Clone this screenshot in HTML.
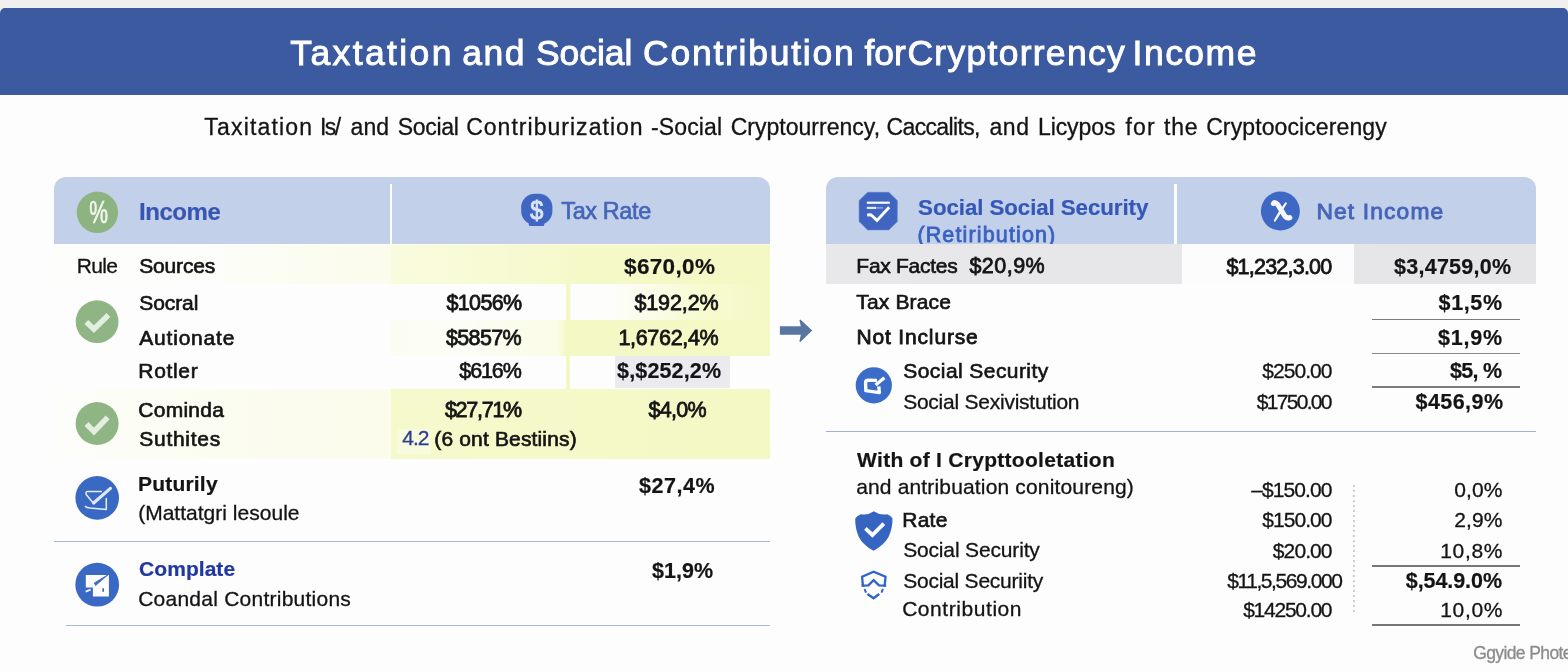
<!DOCTYPE html>
<html lang="en">
<head>
<meta charset="utf-8">
<title>Taxation and Social Contribution for Cryptocurrency Income</title>
<style>
html,body{margin:0;padding:0;}
body{width:1568px;height:672px;overflow:hidden;background:#fdfdfd;position:relative;font-family:"Liberation Sans",sans-serif;}
.a{position:absolute;}
.t{position:absolute;z-index:3;white-space:pre;line-height:30px;font-family:"Liberation Sans",sans-serif;}

.w span{position:absolute;top:0;white-space:pre;}
#icons{position:absolute;left:0;top:0;width:1568px;height:672px;}
</style>
</head>
<body>
<!-- top strip + title band -->
<div class="a" style="left:0;top:0;width:1568px;height:9px;background:#f0f0ef;"></div>
<div class="a" style="left:0;top:8px;width:1568px;height:87.3px;background:#3c5aa0;border-radius:5px 5px 0 0;"></div>

<!-- left table -->
<div class="a" style="left:54px;top:177px;width:716px;height:67px;background:#c3d0ea;border-radius:12px 12px 0 0;"></div>
<div class="a" style="left:389.5px;top:184px;width:2.5px;height:60px;background:#fbfcfe;"></div>
<!-- row backgrounds left -->
<div class="a" style="left:54px;top:244px;width:337px;height:40px;background:linear-gradient(90deg,#fdfdfc 0,#fdfdfa 45%,#fcfdf2 70%,#fbfcec 100%);"></div>
<div class="a" style="left:391px;top:244px;width:379px;height:40px;background:linear-gradient(90deg,#f9fbde 0,#f7fad2 30%,#f5f9c8 50%,#f4f8c4 100%);"></div>
<div class="a" style="left:391px;top:284px;width:379px;height:36px;background:linear-gradient(90deg,#fdfdfd 0,#fdfdfd 46.2%,#f4f8c5 46.3%,#f4f8c5 47.3%,#fdfdfd 47.4%,#fdfdfb 58%,#f7fbd0 82%,#f4f8c5 100%);"></div>
<div class="a" style="left:391px;top:319.5px;width:379px;height:36px;background:linear-gradient(90deg,#fcfdf2 0,#fcfdf4 20%,#fafce6 44%,#f4f8c5 46.2%,#f5f9c6 100%);"></div>
<div class="a" style="left:566px;top:355px;width:4px;height:34px;background:#f4f8c5;"></div>
<div class="a" style="left:614.5px;top:355.5px;width:115.5px;height:32px;background:#eaeaef;"></div>
<div class="a" style="left:54px;top:389px;width:337px;height:69.5px;background:linear-gradient(90deg,#fdfdfb 0,#fcfdf4 30%,#fbfcea 100%);"></div>
<div class="a" style="left:391px;top:389px;width:379px;height:69.5px;background:linear-gradient(90deg,#f6f9cc 0,#f4f8c4 100%);"></div>
<div class="a" style="left:397px;top:429px;width:34px;height:25px;background:#f9fbde;"></div>
<div class="a" style="left:54px;top:244px;width:716px;height:1.3px;background:rgba(255,255,255,0.55);"></div>
<!-- rules left -->
<div class="a" style="left:54px;top:540.5px;width:716px;height:1.5px;background:#a9b9dd;"></div>
<div class="a" style="left:66px;top:624.5px;width:704px;height:1.5px;background:#a9b9dd;"></div>

<!-- right table -->
<div class="a" style="left:826px;top:177px;width:710px;height:67px;background:#c3d0ea;border-radius:12px 12px 0 0;"></div>
<div class="a" style="left:1174px;top:184px;width:2.5px;height:60px;background:#fbfcfe;"></div>
<div class="a" style="left:826px;top:244px;width:710px;height:40px;background:linear-gradient(90deg,#e8e8ea,#e5e5e8);z-index:2;"></div>
<div class="a" style="left:1182px;top:244px;width:172px;height:40px;background:#fcfcfc;z-index:2;"></div>
<!-- rules right -->
<div class="a" style="left:826px;top:430.5px;width:710px;height:1.5px;background:#a6afd2;"></div>
<div class="a" style="left:1372px;top:318.5px;width:148px;height:1.5px;background:#7c7c7c;"></div>
<div class="a" style="left:1372px;top:352.5px;width:148px;height:1.5px;background:#8a8a8a;"></div>
<div class="a" style="left:1372px;top:386px;width:148px;height:1.5px;background:#7c7c7c;"></div>
<div class="a" style="left:1372px;top:565.3px;width:148px;height:1.8px;background:#777;"></div>
<div class="a" style="left:1372px;top:624.2px;width:148px;height:1.8px;background:#777;"></div>
<div class="a" style="left:1353.2px;top:485px;width:1.6px;height:128px;background:repeating-linear-gradient(180deg,#cdcdcd 0,#cdcdcd 1.6px,transparent 1.6px,transparent 5px);"></div>

<svg id="icons" width="1568" height="672" viewBox="0 0 1568 672">
<!-- percent badge -->
<circle cx="97.4" cy="212.3" r="20.7" fill="#8db380"/>
<text x="0" y="8.3" text-anchor="middle" font-family="'Liberation Sans',sans-serif" font-size="24" font-weight="400" fill="#f1f6ec" transform="translate(98.6 212.2) scale(0.88 1.32)" stroke="#f1f6ec" stroke-width="0.5">%</text>
<!-- dollar badge -->
<rect x="521.2" y="193.8" width="31.2" height="31" rx="13.5" ry="13.5" fill="#3f66c2"/>
<rect x="528.8" y="221" width="15.4" height="5" rx="1" fill="#3f66c2"/>
<text x="0" y="8.1" text-anchor="middle" font-family="'Liberation Sans',sans-serif" font-size="24" font-weight="400" fill="#dbe4f8" stroke="#dbe4f8" stroke-width="0.9" transform="translate(536.9 210.2) scale(0.98 1.1)">$</text>
<!-- check circles -->
<circle cx="97.1" cy="321.7" r="21.4" fill="#90b584"/>
<path d="M86.3 321.9 L93.9 329.2 L108.4 315" fill="none" stroke="#e3eedf" stroke-width="5.5"/>
<circle cx="97.1" cy="423.5" r="21.5" fill="#90b584"/>
<path d="M86.5 424 L94 431.6 L107.6 417.4" fill="none" stroke="#e3eedf" stroke-width="5.5"/>
<!-- blue icon A -->
<circle cx="97.2" cy="497.9" r="21.8" fill="#3a69c4"/>
<g fill="none" stroke="#e6edfb" stroke-linecap="round" stroke-linejoin="round">
<path d="M101.4 491.4 L87.2 491.4 Q85.6 491.6 86.2 494.6 L93.4 503.2" stroke-width="1.5"/>
<path d="M106.3 498.6 L106.3 509.4 L90 508 Q86.5 507.6 85.5 506.4" stroke-width="1.5"/>
<path d="M93.6 503 L110.4 488.4" stroke-width="3.2" stroke="#dfe8fa"/>
</g>
<!-- blue icon B -->
<circle cx="97.2" cy="584.7" r="21.9" fill="#3a69c4"/>
<path d="M85.8 574.9 L108.9 574.9 L108.9 596.5 L92.9 596.5 L92.9 587.6 L85.8 587.6 Z" fill="#fdfdfe"/>
<path d="M94.3 583 L108.2 574.6 L95.6 585.6 Z" fill="#3a69c4" stroke="#3a69c4" stroke-width="0.8" stroke-linejoin="round"/>
<rect x="102.4" y="588" width="1.6" height="4" rx="0.8" fill="#3a69c4"/>
<path d="M85.6 591.6 L90.6 589.6" stroke="#eef2fb" stroke-width="1.8" fill="none"/>
<!-- octagon -->
<path d="M867.6 192.3 L888.8 192.3 L897.3 200.6 L897.3 221.6 L888.8 229.9 L867.6 229.9 L859.1 221.6 L859.1 200.6 Z" fill="#3f65c0" stroke="#5f80cf" stroke-width="0.6"/>
<path d="M866.8 202.7 L889.8 202.7" stroke="#fbfcff" stroke-width="2.2" fill="none"/>
<path d="M866.8 207.9 L876 207.9" stroke="#e3eaf9" stroke-width="2.2" fill="none"/>
<path d="M876 207.9 L883 207.9" stroke="#8aa4e0" stroke-width="1.6" fill="none"/>
<path d="M867.2 215.2 Q870.5 214.2 872 215.8 L877 220.4 L889.2 207.2" stroke="#fdfdff" stroke-width="3" fill="none"/>
<!-- net income -->
<circle cx="1280.4" cy="211.1" r="19.5" fill="#3f68c4"/>
<path d="M1273.4 203.6 Q1274.6 201.2 1277.6 204.4 L1284.4 215.4 Q1286.6 218.8 1289.8 217.6" stroke="#f6f8fd" stroke-width="5" fill="none" stroke-linecap="round" stroke-linejoin="round"/>
<path d="M1285.8 203.4 L1274.8 220.6 L1280 211.6 Z" fill="#f6f8fd" stroke="#f6f8fd" stroke-width="2" stroke-linejoin="round"/>
<!-- arrow -->
<path d="M779.9 326.2 L800.8 326.2 L799.4 320.2 L800.4 319.6 L812.2 330.4 L800.4 342 L799.4 341.4 L800.8 334.8 L779.9 334.8 Z" fill="#5876a0"/>
<!-- right blue circle -->
<circle cx="873.8" cy="385.3" r="18.1" fill="#3b6cc8"/>
<path d="M877 380.4 L867.6 380.2 Q865.6 380.4 865.6 382.4 L865.8 390.6 L879.4 392.6 L878.8 386.4" stroke="#fbfcff" stroke-width="3.4" fill="none" stroke-linejoin="round"/>
<path d="M875.6 385 L884.4 377.8" stroke="#fbfcff" stroke-width="3.4" fill="none"/>
<!-- shield filled -->
<path d="M873.8 511.3 Q868 515.6 860.9 514.2 Q857 515.4 855.2 518.6 Q855 528 858.6 536.6 Q863 545.4 873.5 550.8 Q884 545.4 888.8 536.6 Q892.6 528 892.5 518.6 Q891 515.4 887.2 514.2 Q880 515.6 873.8 511.3 Z" fill="#3565c0"/>
<path d="M865.4 528.4 L872.4 535 L883.8 523.6" stroke="#fdfdff" stroke-width="3.8" fill="none"/>
<!-- shield outline -->
<g fill="none" stroke="#2f63c8" stroke-width="2.3" stroke-linejoin="miter">
<path d="M863 586.6 L862.1 576.8 L873.7 571.7 L885.5 576.8 L884.6 586.6"/>
<path d="M861.6 585.6 L868.4 585.4 L873.6 580.2 L879 585.4 L886.2 585.6"/>
<path d="M864.6 589 L866 592.6 M883 589 L881.4 592.6" stroke-width="2"/>
<path d="M867.4 594 L873.6 598.2 L879.2 594" stroke-width="2.4"/>
</g>
</svg>

<div class="t w" style="left:0;top:38px;font-size:35.5px;color:#ffffff;-webkit-text-stroke:0.9px #ffffff;"><span style="left:290.25px;letter-spacing:2.395px">Taxtation </span><span style="left:462.25px;letter-spacing:1.557px">and </span><span style="left:535.95px;letter-spacing:-0.040px">Social </span><span style="left:643.05px;letter-spacing:1.748px">Contribution </span><span style="left:864.55px;letter-spacing:-0.103px">for</span><span style="left:907.45px;letter-spacing:1.278px">Cryptorrency </span><span style="left:1132.55px;letter-spacing:1.486px">Income</span></div>
<div class="t w" style="left:0;top:112px;font-size:23px;color:#141414;-webkit-text-stroke:0.3px #141414;"><span style="left:204.35px;letter-spacing:1.169px">Taxitation </span><span style="left:319.95px;letter-spacing:-1.495px">Is/ </span><span style="left:350.55px;letter-spacing:0.108px">and </span><span style="left:397.85px;letter-spacing:-0.327px">Social </span><span style="left:466.15px;letter-spacing:1.028px">Contriburization </span><span style="left:650.95px;letter-spacing:0.135px">-Social </span><span style="left:730.75px;letter-spacing:0.013px">Cryptourrency, </span><span style="left:886.55px;letter-spacing:-0.645px">Caccalits, </span><span style="left:989.45px;letter-spacing:0.608px">and </span><span style="left:1037.95px;letter-spacing:-0.081px">Licypos </span><span style="left:1125.45px;letter-spacing:1.209px">for </span><span style="left:1164.05px;letter-spacing:0.809px">the </span><span style="left:1206.15px;letter-spacing:0.109px">Cryptoocicerengy</span></div>
<div class="t" style="left:139.10px;top:197px;font-size:24px;letter-spacing:-0.475px;color:#3656b2;font-weight:700;-webkit-text-stroke:0.2px #3656b2;">Income</div>
<div class="t" style="left:561.33px;top:196px;font-size:23.4px;letter-spacing:-0.349px;color:#4565b8;-webkit-text-stroke:0.65px #4565b8;">Tax Rate</div>
<div class="t" style="left:76.65px;top:251px;font-size:21px;letter-spacing:-0.603px;color:#141414;-webkit-text-stroke:0.3px #141414;">Rule</div>
<div class="t" style="left:139.32px;top:251px;font-size:21px;letter-spacing:-0.198px;color:#141414;-webkit-text-stroke:0.65px #141414;">Sources</div>
<div class="t" style="left:624.10px;top:252px;font-size:22.5px;letter-spacing:0.330px;color:#141414;font-weight:700;-webkit-text-stroke:0.2px #141414;">$670,0%</div>
<div class="t" style="left:139.32px;top:288px;font-size:21px;letter-spacing:-0.102px;color:#141414;-webkit-text-stroke:0.65px #141414;">Socral</div>
<div class="t" style="left:446.40px;top:288px;font-size:21.5px;letter-spacing:-0.617px;color:#141414;-webkit-text-stroke:0.8px #141414;">$1056%</div>
<div class="t" style="left:634.40px;top:288px;font-size:21.5px;letter-spacing:-0.093px;color:#141414;-webkit-text-stroke:0.8px #141414;">$192,2%</div>
<div class="t" style="left:139.32px;top:323px;font-size:21px;letter-spacing:0.786px;color:#141414;-webkit-text-stroke:0.65px #141414;">Autionate</div>
<div class="t" style="left:445.90px;top:323px;font-size:21.5px;letter-spacing:-0.617px;color:#141414;-webkit-text-stroke:0.8px #141414;">$5857%</div>
<div class="t" style="left:618.40px;top:323px;font-size:21.5px;letter-spacing:-0.311px;color:#141414;-webkit-text-stroke:0.8px #141414;">1,6762,4%</div>
<div class="t" style="left:138.32px;top:356px;font-size:21px;letter-spacing:0.665px;color:#141414;-webkit-text-stroke:0.65px #141414;">Rotler</div>
<div class="t" style="left:459.32px;top:356px;font-size:21.5px;letter-spacing:-1.120px;color:#141414;-webkit-text-stroke:0.65px #141414;">$616%</div>
<div class="t" style="left:617.10px;top:356px;font-size:21.5px;letter-spacing:0.139px;color:#141414;font-weight:700;-webkit-text-stroke:0.2px #141414;">$,$252,2%</div>
<div class="t" style="left:138.32px;top:395px;font-size:21px;letter-spacing:0.248px;color:#141414;-webkit-text-stroke:0.65px #141414;">Cominda</div>
<div class="t" style="left:444.90px;top:395px;font-size:21.5px;letter-spacing:-1.260px;color:#141414;-webkit-text-stroke:0.8px #141414;">$27,71%</div>
<div class="t" style="left:648.40px;top:395px;font-size:21.5px;letter-spacing:-0.661px;color:#141414;-webkit-text-stroke:0.8px #141414;">$4,0%</div>
<div class="t" style="left:139.32px;top:424px;font-size:21px;letter-spacing:0.710px;color:#141414;-webkit-text-stroke:0.65px #141414;">Suthites</div>
<div class="t" style="left:402.15px;top:423px;font-size:21px;letter-spacing:-0.907px;color:#2c3e90;-webkit-text-stroke:0.3px #2c3e90;">4.2</div>
<div class="t" style="left:434.32px;top:424px;font-size:21px;letter-spacing:0.152px;color:#141414;-webkit-text-stroke:0.65px #141414;">(6 ont Bestiins)</div>
<div class="t" style="left:138.10px;top:469px;font-size:21px;letter-spacing:0.186px;color:#141414;font-weight:700;-webkit-text-stroke:0.2px #141414;">Puturily</div>
<div class="t" style="left:639.10px;top:471px;font-size:21.5px;letter-spacing:0.500px;color:#141414;font-weight:700;-webkit-text-stroke:0.2px #141414;">$27,4%</div>
<div class="t" style="left:138.15px;top:498px;font-size:21px;letter-spacing:0.018px;color:#141414;-webkit-text-stroke:0.3px #141414;">(Mattatgri lesoule</div>
<div class="t" style="left:139.10px;top:554px;font-size:21px;letter-spacing:0.043px;color:#2038a0;font-weight:700;-webkit-text-stroke:0.2px #2038a0;">Complate</div>
<div class="t" style="left:652.10px;top:556px;font-size:21.5px;letter-spacing:-0.011px;color:#141414;font-weight:700;-webkit-text-stroke:0.2px #141414;">$1,9%</div>
<div class="t" style="left:138.15px;top:584px;font-size:21px;letter-spacing:0.245px;color:#141414;-webkit-text-stroke:0.3px #141414;">Coandal Contributions</div>
<div class="t" style="left:918.10px;top:193px;font-size:22.3px;letter-spacing:-0.073px;color:#3558b8;font-weight:700;-webkit-text-stroke:0.2px #3558b8;">Social Social Security</div>
<div class="t" style="left:917.40px;top:220px;font-size:21.5px;letter-spacing:1.138px;color:#3a62c0;-webkit-text-stroke:0.8px #3a62c0;z-index:1;">(Retiribution)</div>
<div class="t" style="left:1316.45px;top:196px;font-size:22.8px;letter-spacing:1.135px;color:#4565b8;-webkit-text-stroke:0.9px #4565b8;">Net Income</div>
<div class="t" style="left:856.33px;top:251px;font-size:21px;letter-spacing:-0.279px;color:#141414;-webkit-text-stroke:0.65px #141414;">Fax Factes</div>
<div class="t" style="left:969.40px;top:251px;font-size:21.5px;letter-spacing:0.480px;color:#141414;-webkit-text-stroke:0.8px #141414;">$20,9%</div>
<div class="t" style="left:1226.40px;top:252px;font-size:21.5px;letter-spacing:-0.772px;color:#141414;-webkit-text-stroke:0.8px #141414;">$1,232,3.00</div>
<div class="t" style="left:1394.10px;top:252px;font-size:21.5px;letter-spacing:0.239px;color:#141414;font-weight:700;-webkit-text-stroke:0.2px #141414;">$3,4759,0%</div>
<div class="t" style="left:856.33px;top:287px;font-size:21px;letter-spacing:0.145px;color:#141414;-webkit-text-stroke:0.65px #141414;">Tax Brace</div>
<div class="t" style="left:1438.60px;top:288px;font-size:21.5px;letter-spacing:0.614px;color:#141414;font-weight:700;-webkit-text-stroke:0.2px #141414;">$1,5%</div>
<div class="t" style="left:856.40px;top:322px;font-size:21px;letter-spacing:0.849px;color:#141414;-webkit-text-stroke:0.8px #141414;">Not Inclurse</div>
<div class="t" style="left:1438.10px;top:323px;font-size:21.5px;letter-spacing:0.739px;color:#141414;font-weight:700;-webkit-text-stroke:0.2px #141414;">$1,9%</div>
<div class="t" style="left:903.33px;top:356px;font-size:21px;letter-spacing:0.426px;color:#141414;-webkit-text-stroke:0.65px #141414;">Social Security</div>
<div class="t" style="left:1262.15px;top:356px;font-size:21px;letter-spacing:-0.922px;color:#141414;-webkit-text-stroke:0.3px #141414;">$250.00</div>
<div class="t" style="left:1450.10px;top:356px;font-size:21.5px;letter-spacing:-0.765px;color:#141414;font-weight:700;-webkit-text-stroke:0.2px #141414;">$5, %</div>
<div class="t" style="left:903.15px;top:387px;font-size:21px;letter-spacing:-0.239px;color:#141414;-webkit-text-stroke:0.3px #141414;">Social Sexivistution</div>
<div class="t" style="left:1256.65px;top:387px;font-size:21px;letter-spacing:-1.673px;color:#141414;-webkit-text-stroke:0.3px #141414;">$1750.00</div>
<div class="t" style="left:1415.60px;top:387px;font-size:21.5px;letter-spacing:0.423px;color:#141414;font-weight:700;-webkit-text-stroke:0.2px #141414;">$456,9%</div>
<div class="t" style="left:857.10px;top:445px;font-size:21px;letter-spacing:0.281px;color:#141414;font-weight:700;-webkit-text-stroke:0.2px #141414;">With of I Crypttooletation</div>
<div class="t" style="left:856.15px;top:472px;font-size:21px;letter-spacing:0.161px;color:#141414;-webkit-text-stroke:0.3px #141414;">and antribuation conitoureng)</div>
<div class="t" style="left:1251.15px;top:475px;font-size:21px;letter-spacing:-0.887px;color:#141414;-webkit-text-stroke:0.3px #141414;">–$150.00</div>
<div class="t" style="left:1454.15px;top:475px;font-size:21px;letter-spacing:0.169px;color:#141414;-webkit-text-stroke:0.3px #141414;">0,0%</div>
<div class="t" style="left:902.33px;top:505px;font-size:21px;letter-spacing:0.224px;color:#141414;-webkit-text-stroke:0.65px #141414;">Rate</div>
<div class="t" style="left:1262.15px;top:505px;font-size:21px;letter-spacing:-0.922px;color:#141414;-webkit-text-stroke:0.3px #141414;">$150.00</div>
<div class="t" style="left:1454.15px;top:505px;font-size:21px;letter-spacing:0.169px;color:#141414;-webkit-text-stroke:0.3px #141414;">2,9%</div>
<div class="t" style="left:903.15px;top:535px;font-size:21px;letter-spacing:-0.156px;color:#141414;-webkit-text-stroke:0.3px #141414;">Social Security</div>
<div class="t" style="left:1272.85px;top:536px;font-size:21px;letter-spacing:-0.910px;color:#141414;-webkit-text-stroke:0.3px #141414;">$20.00</div>
<div class="t" style="left:1440.15px;top:536px;font-size:21px;letter-spacing:0.707px;color:#141414;-webkit-text-stroke:0.3px #141414;">10,8%</div>
<div class="t" style="left:903.15px;top:566px;font-size:21px;letter-spacing:-0.224px;color:#141414;-webkit-text-stroke:0.3px #141414;">Social Securiity</div>
<div class="t" style="left:1227.15px;top:566px;font-size:21px;letter-spacing:-1.405px;color:#141414;-webkit-text-stroke:0.3px #141414;">$11,5,569.000</div>
<div class="t" style="left:1405.80px;top:566px;font-size:21.5px;letter-spacing:-0.076px;color:#141414;font-weight:700;-webkit-text-stroke:0.2px #141414;">$,54.9.0%</div>
<div class="t" style="left:902.15px;top:594px;font-size:21px;letter-spacing:0.559px;color:#141414;-webkit-text-stroke:0.3px #141414;">Contribution</div>
<div class="t" style="left:1243.15px;top:595px;font-size:21px;letter-spacing:-1.236px;color:#141414;-webkit-text-stroke:0.3px #141414;">$14250.00</div>
<div class="t" style="left:1440.15px;top:595px;font-size:21px;letter-spacing:0.707px;color:#141414;-webkit-text-stroke:0.3px #141414;">10,0%</div>
<div class="t" style="left:1473.15px;top:638px;font-size:17.5px;letter-spacing:-0.601px;color:#8c8c8c;-webkit-text-stroke:0.3px #8c8c8c;">Ggyide Phote</div>
</body>
</html>
